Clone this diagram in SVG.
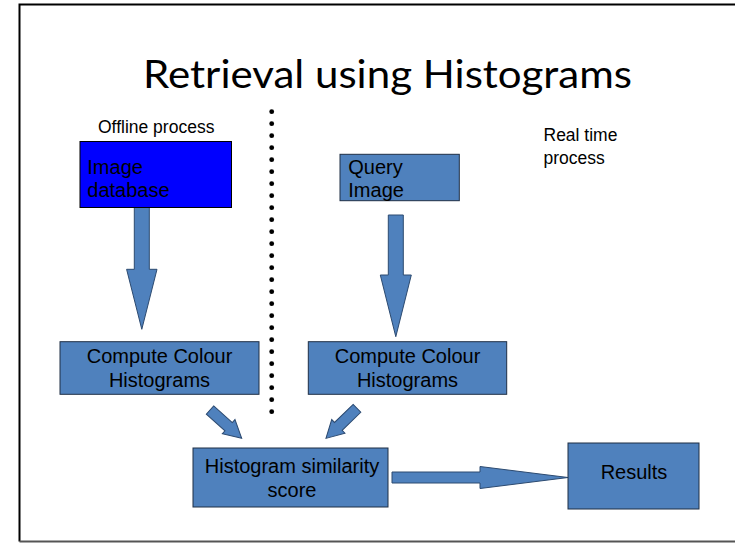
<svg xmlns="http://www.w3.org/2000/svg" width="735" height="545" viewBox="0 0 735 545">
  <style>
    .box { fill: #4f81bd; stroke: #1f2f45; stroke-width: 1; }
    .arrow { fill: #4f81bd; stroke: #2c4a70; stroke-width: 1; stroke-linejoin: miter; }
    .lbl { font-family: "Liberation Sans", Arial, sans-serif; font-size: 20px; fill: #000; }
    .small { font-family: "Liberation Sans", Arial, sans-serif; font-size: 17.5px; fill: #000; }
    .mid { text-anchor: middle; }
    .dot { fill: #000; }
  </style>
  <defs>
    <circle id="dot" r="2.4" class="dot"/>
  </defs>

  <rect width="735" height="545" fill="#fff"/>

  <!-- slide frame -->
  <path d="M735,4.5 H19.5 V541.5" fill="none" stroke="#000" stroke-width="2"/>
  <path d="M19.5,541.5 H735" fill="none" stroke="#555" stroke-width="2"/>

  <!-- title -->
  <text x="387.5" y="88" class="mid" font-family="Lato, 'Open Sans', sans-serif" font-size="38" fill="#000" textLength="489" lengthAdjust="spacingAndGlyphs">Retrieval using Histograms</text>

  <!-- section captions -->
  <text x="98" y="133.3" class="small">Offline process</text>
  <text x="543.5" y="141" class="small">Real time</text>
  <text x="543.5" y="164" class="small">process</text>

  <!-- dotted divider -->
  <g id="divider">
    <use href="#dot" x="271.7" y="111.7"/>
    <use href="#dot" x="271.7" y="123.7"/>
    <use href="#dot" x="271.7" y="135.7"/>
    <use href="#dot" x="271.7" y="147.7"/>
    <use href="#dot" x="271.7" y="159.7"/>
    <use href="#dot" x="271.7" y="171.7"/>
    <use href="#dot" x="271.7" y="183.7"/>
    <use href="#dot" x="271.7" y="195.7"/>
    <use href="#dot" x="271.7" y="207.7"/>
    <use href="#dot" x="271.7" y="219.7"/>
    <use href="#dot" x="271.7" y="231.7"/>
    <use href="#dot" x="271.7" y="243.7"/>
    <use href="#dot" x="271.7" y="255.7"/>
    <use href="#dot" x="271.7" y="267.7"/>
    <use href="#dot" x="271.7" y="279.7"/>
    <use href="#dot" x="271.7" y="291.7"/>
    <use href="#dot" x="271.7" y="303.7"/>
    <use href="#dot" x="271.7" y="315.7"/>
    <use href="#dot" x="271.7" y="327.7"/>
    <use href="#dot" x="271.7" y="339.7"/>
    <use href="#dot" x="271.7" y="351.7"/>
    <use href="#dot" x="271.7" y="363.7"/>
    <use href="#dot" x="271.7" y="375.7"/>
    <use href="#dot" x="271.7" y="387.7"/>
    <use href="#dot" x="271.7" y="399.7"/>
    <use href="#dot" x="271.7" y="411.7"/>
  </g>

  <!-- block arrows -->
  <g id="connectors">
    <polygon class="arrow" points="134.3,207.3 149.3,207.3 149.3,269.3 157,269.3 141.8,329.3 126.6,269.3 134.3,269.3"/>
    <polygon class="arrow" points="388.3,215 403.3,215 403.3,275 411.3,275 395.8,336.7 380.3,275 388.3,275"/>
    <polygon class="arrow" transform="translate(210,410) rotate(41.8)" points="0,-5.5 25,-5.5 25,-9.5 42.5,0 25,9.5 25,5.5 0,5.5"/>
    <polygon class="arrow" transform="translate(357,408.3) rotate(135.9)" points="0,-5.5 26,-5.5 26,-9.5 43.2,0 26,9.5 26,5.5 0,5.5"/>
    <polygon class="arrow" points="392,472 480,472 480,466.5 568,477.5 480,488.5 480,483 392,483"/>
  </g>

  <g id="image-database">
    <rect x="80" y="141.5" width="151.5" height="66" fill="#0000ff" stroke="#000" stroke-width="1"/>
    <text x="87.3" y="174" class="lbl">Image</text>
    <text x="87.3" y="197.3" class="lbl">database</text>
  </g>

  <g id="query-image">
    <rect x="340" y="154.3" width="119.3" height="46.4" class="box"/>
    <text x="348.3" y="174.3" class="lbl">Query</text>
    <text x="348.3" y="197.3" class="lbl">Image</text>
  </g>

  <g id="compute-offline">
    <rect x="60" y="341.7" width="199" height="52.6" class="box"/>
    <text x="159.5" y="363.3" class="lbl mid">Compute Colour</text>
    <text x="159.5" y="387.3" class="lbl mid">Histograms</text>
  </g>

  <g id="compute-query">
    <rect x="308.3" y="341.7" width="198.4" height="52.6" class="box"/>
    <text x="407.5" y="363.3" class="lbl mid">Compute Colour</text>
    <text x="407.5" y="387.3" class="lbl mid">Histograms</text>
  </g>

  <g id="similarity">
    <rect x="193" y="448" width="195" height="59" class="box"/>
    <text x="292" y="473" class="lbl mid">Histogram similarity</text>
    <text x="292" y="497" class="lbl mid">score</text>
  </g>

  <g id="results">
    <rect x="568" y="443" width="131" height="66" class="box"/>
    <text x="634" y="478.5" class="lbl mid">Results</text>
  </g>
</svg>
